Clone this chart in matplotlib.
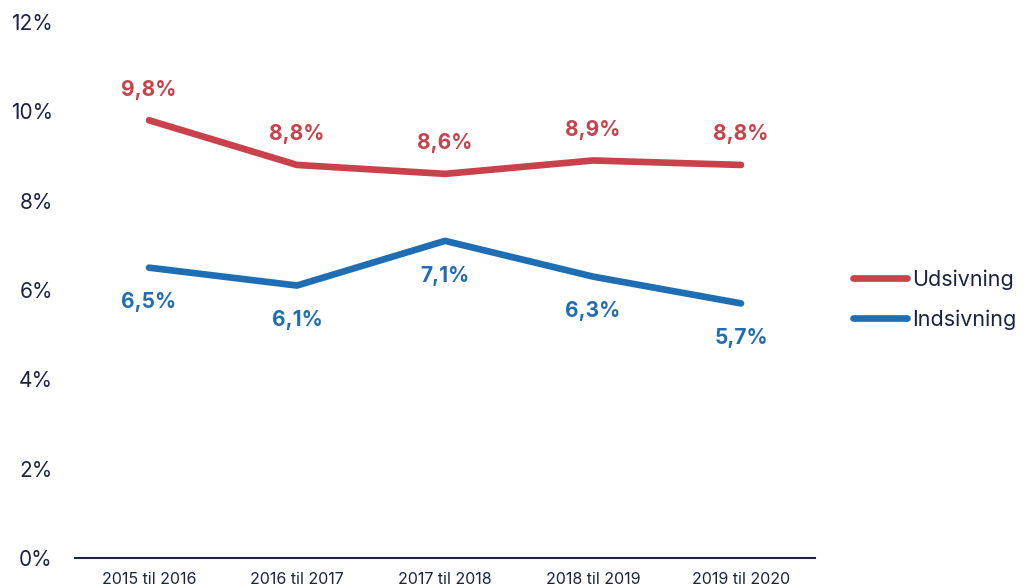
import matplotlib.pyplot as plt

periods = ["2015 til 2016", "2016 til 2017", "2017 til 2018", "2018 til 2019", "2019 til 2020"]
udsivning = [9.8, 8.8, 8.6, 8.9, 8.8]
indsivning = [6.5, 6.1, 7.1, 6.3, 5.7]
yticks = [0, 2, 4, 6, 8, 10, 12]

red = "#C9414B"
blue = "#1F6EB4"
navy = "#1B2340"

plt.rcParams["font.family"] = ["Inter", "DejaVu Sans"]

fig = plt.figure(figsize=(10.26, 5.87), dpi=100)
ax = fig.add_axes([75 / 1026, 29 / 587, 740 / 1026, 536 / 587])

x = list(range(len(periods)))
ax.plot(x, udsivning, color=red, lw=4.8, solid_capstyle="round", solid_joinstyle="round", label="Udsivning")
ax.plot(x, indsivning, color=blue, lw=4.8, solid_capstyle="round", solid_joinstyle="round", label="Indsivning")

# data labels: red above, blue below
for i in x:
    ax.annotate(f"{udsivning[i]:.1f}%".replace(".", ","), (i, udsivning[i]), xytext=(0, 22),
                textcoords="offset points", ha="center", va="center",
                color=red, fontsize=15, fontweight="bold")
    ax.annotate(f"{indsivning[i]:.1f}%".replace(".", ","), (i, indsivning[i]), xytext=(0, -25),
                textcoords="offset points", ha="center", va="center",
                color=blue, fontsize=15, fontweight="bold")

ax.set_xlim(-0.5, len(periods) - 0.5)
ax.set_ylim(0, 12)
ax.set_yticks(yticks)
ax.set_yticklabels([f"{v}%" for v in yticks], fontsize=15, color=navy)
ax.set_xticks(x)
ax.set_xticklabels(periods, fontsize=11.5, color=navy)
ax.tick_params(length=0)
ax.tick_params(axis="y", pad=16)
ax.tick_params(axis="x", pad=10)
for s in ["top", "right", "left"]:
    ax.spines[s].set_visible(False)
ax.spines["bottom"].set_color(navy)
ax.spines["bottom"].set_linewidth(1.5)

leg = fig.legend(loc="center left", bbox_to_anchor=(853 / 1026, 0.49), frameon=False,
                 fontsize=15.5, handlelength=2.5, handletextpad=0.25, labelspacing=0.9,
                 borderpad=0, borderaxespad=0)
for t in leg.get_texts():
    t.set_color(navy)

fig.savefig("out.png", dpi=100)
